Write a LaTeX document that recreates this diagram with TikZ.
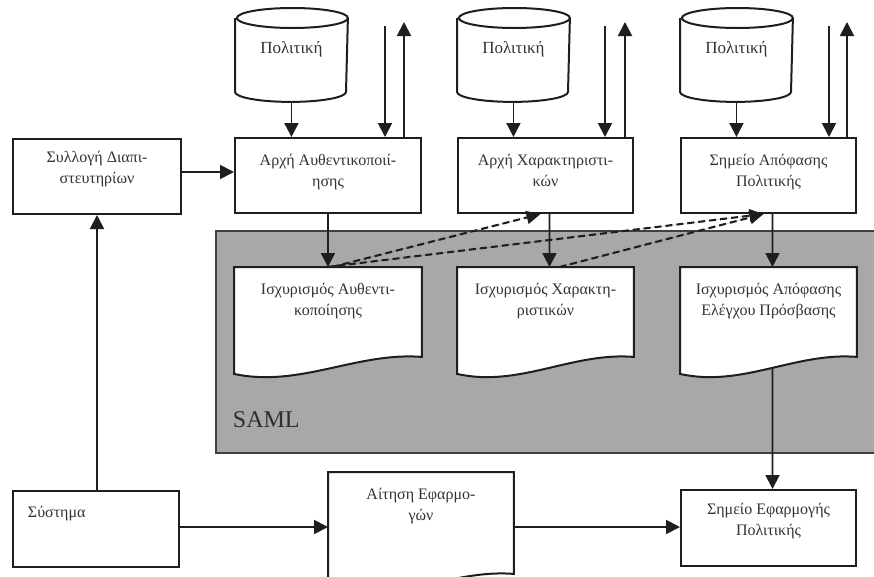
\documentclass[tikz,border=0pt]{standalone}
\usepackage{fontspec}
\setmainfont{Liberation Serif}
\usetikzlibrary{arrows.meta,calc}
\definecolor{ink}{HTML}{1E1E1E}
\definecolor{txt}{HTML}{333333}
\definecolor{samlgray}{HTML}{A8A8A8}
\begin{document}
\begin{tikzpicture}[x=1pt,y=-1pt,
  line width=1.9pt, draw=ink,
  tip/.style={-{Triangle[length=14pt,width=14pt]}, draw=ink, fill=ink},
  box/.style={draw=ink, line width=2pt, fill=white, inner sep=0pt, anchor=north west,
    minimum width=#1, minimum height=75pt},
  area/.style={inner sep=0pt, anchor=north west},
  lbl/.style={font=\fontsize{16}{21}\selectfont, align=center, anchor=north, inner sep=0pt, text=txt},
  dashline/.style={dashed, dash pattern=on 7pt off 4pt, line width=2.1pt, draw=ink,
    -{Triangle[length=14pt,width=13pt]}, fill=ink},
  docline/.style={draw=ink, line width=2pt, fill=white}]

\useasboundingbox (0,0) rectangle (874,576);
\clip (0,0) rectangle (874,576);

% background of the SAML zone
\node[area, draw=ink!85, line width=2.2pt, fill=samlgray, minimum width=670pt, minimum height=222pt]
  (saml) at (215,230) {};
\node[anchor=base west, inner sep=0pt, font=\fontsize{24}{26}\selectfont, text=txt!90!black]
  (samltxt) at (232,427) {SAML};

% document shape with wavy bottom edge (#2: rise of the right end)
\newcommand\docshape[2]{%
  \draw[docline] (#1.north west) -- (#1.north east) -- ($(#1.south east)+(0,-#2)$)
    .. controls ($(#1.south west)!0.65!(#1.south east)+(0,-#2-5)$)
       and ($(#1.south west)!0.35!(#1.south east)+(0,14)$) .. (#1.south west) -- cycle;}

% policy store (cylinder)
\newcommand\cylshape[1]{%
  \draw[docline] ($(#1.north west)+(0,10)$) -- ($(#1.south west)+(0,-10)$)
    arc[start angle=180, end angle=360, x radius=55.5pt, y radius=10pt]
    -- ($(#1.north east)+(0,10)$)
    arc[start angle=0, end angle=180, x radius=55.5pt, y radius=10pt]
    arc[start angle=180, end angle=360, x radius=55.5pt, y radius=10pt];}

\node[area, minimum width=111pt, minimum height=92pt] (c1) at (235,8) {};
\node[area, minimum width=111pt, minimum height=92pt] (c2) at (457,8) {};
\node[area, minimum width=111pt, minimum height=92pt] (c3) at (680,8) {};
\cylshape{c1}\cylshape{c2}\cylshape{c3}
\node[lbl, font=\fontsize{17}{21}\selectfont] (c1t) at ($(c1.north)+(0,33)$) {Πολιτική};
\node[lbl, font=\fontsize{17}{21}\selectfont] (c2t) at ($(c2.north)+(0,33)$) {Πολιτική};
\node[lbl, font=\fontsize{17}{21}\selectfont] (c3t) at ($(c3.north)+(0,33)$) {Πολιτική};

% authorities and decision point
\node[box=186pt] (b1) at (234,137) {};
\node[box=175pt] (b2) at (457,137) {};
\node[box=175pt] (b3) at (680,137) {};
\node[box=168pt] (cred) at (12,138) {};
\node[lbl] (b1t) at ($(b1.north)+(0,15.8)$) {Αρχή Αυθεντικοποιί-\\ησης};
\node[lbl] (b2t) at ($(b2.north)+(0,15.8)$) {Αρχή Χαρακτηριστι-\\κών};
\node[lbl] (b3t) at ($(b3.north)+(0,15.8)$) {Σημείο Απόφασης\\Πολιτικής};
\node[lbl] (credt) at ($(cred.north)+(0,11.8)$) {Συλλογή Διαπι-\\στευτηρίων};

% assertions
\node[area, minimum width=186pt, minimum height=105pt] (d1) at (234,267) {};
\node[area, minimum width=175pt, minimum height=105pt] (d2) at (457,267) {};
\node[area, minimum width=175pt, minimum height=105pt] (d3) at (680,267) {};
\docshape{d1}{17}\docshape{d2}{17}\docshape{d3}{17}
\node[lbl] (d1t) at ($(d1.north)+(0,14.8)$) {Ισχυρισμός Αυθεντι-\\κοποίησης};
\node[lbl] (d2t) at ($(d2.north)+(0,14.8)$) {Ισχυρισμός Χαρακτη-\\ριστικών};
\node[lbl] (d3t) at ($(d3.north)+(0,14.8)$) {Ισχυρισμός Απόφασης\\Ελέγχου Πρόσβασης};

% bottom row
\node[box=166pt, minimum height=76pt] (sys) at (12,490) {};
\node[anchor=base west, inner sep=0pt, font=\fontsize{16}{21}\selectfont, text=txt]
  (syst) at (27,517) {Σύστημα};
\node[area, minimum width=184pt, minimum height=118pt] (req) at (328,472) {};
\docshape{req}{18}
\node[lbl] (reqt) at ($(req.north)+(0,14.8)$) {Αίτηση Εφαρμο-\\γών};
\node[box=175pt, minimum height=76pt] (pep) at (680,489) {};
\node[lbl] (pept) at ($(pep.north)+(0,12.8)$) {Σημείο Εφαρμογής\\Πολιτικής};

% flows between the components
\foreach \c/\b in {c1/b1, c2/b2, c3/b3}
  \draw[tip] (\c.south) -- (\c.south |- \b.north);
\foreach \b/\d/\s in {b1/d1/0, b2/d2/4, b3/d3/4}
  \draw[tip] ([xshift=\s pt]\b.south) -- ([xshift=\s pt]\d.north);
\foreach \b/\i/\o in {b1/37/18, b2/29/9, b3/28/10} {
  \draw[tip] ([xshift=-\i pt]\b.north east |- 0,26) coordinate (\b in) -- ([xshift=-\i pt]\b.north east);
  \draw[tip] ([xshift=-\o pt]\b.north east) -- ([xshift=-\o pt]\b.north east |- 0,22) coordinate (\b out);
}
\draw[tip] (cred.east |- 0,172) -- (b1.west |- 0,172);
\draw[tip] (sys.north -| 97,0) -- (cred.south -| 97,0);
\draw[tip] (sys.east |- 0,527) -- (req.west |- 0,527);
\draw[tip] (req.east |- 0,527) -- (pep.west |- 0,527);
\draw[tip] ($(d3.south)+(4,-5)$) -- ([xshift=4pt]pep.north);

% references back from the assertions
\draw[dashline] ([xshift=4pt]d1.north) -- ([xshift=-5pt]b2.south);
\draw[dashline] ([xshift=-1pt]d1.north) -- ([xshift=-5pt]b3.south);
\draw[dashline] ([xshift=14pt]d2.north) -- ([xshift=-5pt]b3.south);
\end{tikzpicture}
\end{document}
